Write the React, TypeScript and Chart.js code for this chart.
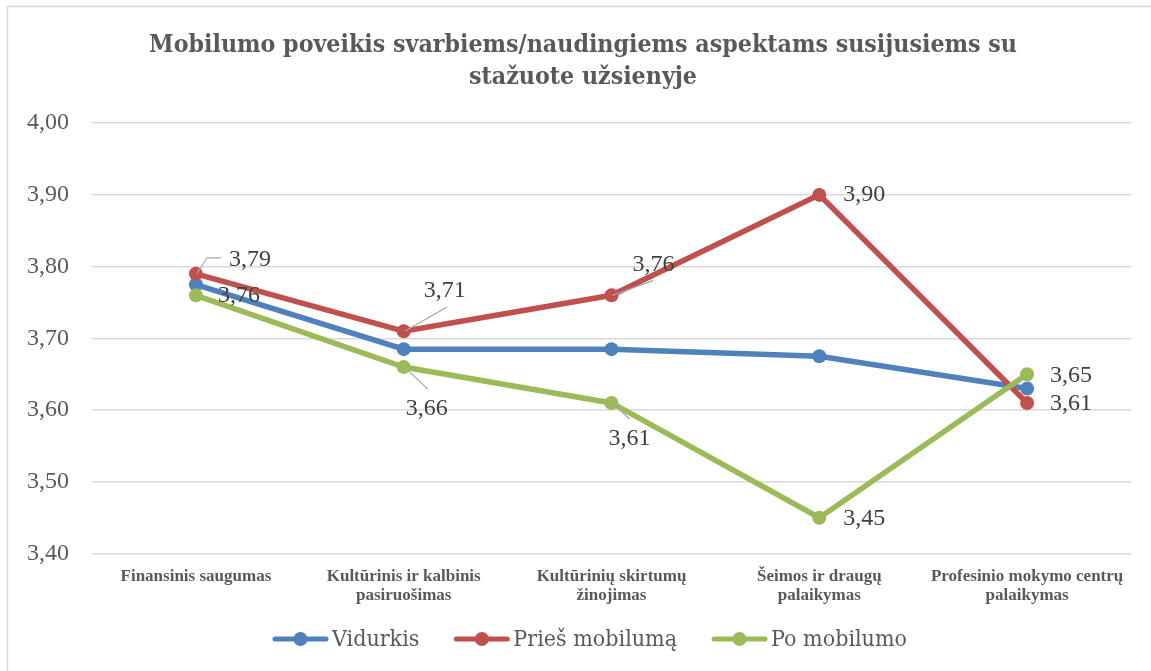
import React, { useEffect, useRef } from "react";
import { Chart, registerables } from "chart.js";

Chart.register(...registerables);

const titleLines = [
  "Mobilumo poveikis svarbiems/naudingiems aspektams susijusiems su",
  "stažuote užsienyje",
];
const categories = [
  ["Finansinis saugumas"],
  ["Kultūrinis ir kalbinis", "pasiruošimas"],
  ["Kultūrinių skirtumų", "žinojimas"],
  ["Šeimos ir draugų", "palaikymas"],
  ["Profesinio mokymo centrų", "palaikymas"],
];
const seriesNames = ["Vidurkis", "Prieš mobilumą", "Po mobilumo"];
const vidurkis = [3.775, 3.685, 3.685, 3.675, 3.63];
const priesMobiluma = [3.79, 3.71, 3.76, 3.9, 3.61];
const poMobilumo = [3.76, 3.66, 3.61, 3.45, 3.65];
const yMin = 3.4;
const yMax = 4.0;
const yStep = 0.1;

const COLORS = ["#4F81BD", "#C0504D", "#9BBB59"];

// label placement (relative to each point): [dx to left edge, dy to centre, leader points]
type LabelPos = { dx: number; dy: number; leader?: number[][] };
const labelPlacement: (LabelPos[] | null)[] = [
  null,
  [
    { dx: 33, dy: -14, leader: [[11, -16], [25, -16]] },
    { dx: 20, dy: -40, leader: [[43, -24]] },
    { dx: 21, dy: -31, leader: [[42, -15]] },
    { dx: 24, dy: 0 },
    { dx: 23, dy: 1 },
  ],
  [
    { dx: 22, dy: 0 },
    { dx: 2, dy: 42, leader: [[24, 22]] },
    { dx: -3, dy: 36, leader: [[18, 16]] },
    { dx: 24, dy: 1 },
    { dx: 23, dy: 1 },
  ],
];

const fmt = (v: number) => v.toFixed(2).replace(".", ",");

const framePlugin = {
  id: "frame",
  afterLayout(chart: any) {
    // let the y tick labels extend into the left padding without being clipped
    chart.scales.y.left = 0;
  },
  beforeDraw(chart: any) {
    const ctx = chart.ctx;
    ctx.save();
    ctx.fillStyle = "#ffffff";
    ctx.fillRect(0, 0, chart.width, chart.height);
    ctx.strokeStyle = "#d9d9d9";
    ctx.lineWidth = 1.5;
    ctx.beginPath();
    ctx.moveTo(7.5, chart.height);
    ctx.lineTo(7.5, 6.5);
    ctx.lineTo(chart.width, 6.5);
    ctx.stroke();
    ctx.restore();
  },
};

const labelsPlugin = {
  id: "pointLabels",
  afterDatasetsDraw(chart: any) {
    const ctx = chart.ctx;
    ctx.save();
    chart.data.datasets.forEach((ds: any, di: number) => {
      const place = labelPlacement[di];
      if (!place) return;
      const meta = chart.getDatasetMeta(di);
      meta.data.forEach((pt: any, i: number) => {
        const p = place[i];
        if (!p) return;
        if (p.leader) {
          ctx.strokeStyle = "#a6a6a6";
          ctx.lineWidth = 1.2;
          ctx.beginPath();
          ctx.moveTo(pt.x + 1, pt.y);
          p.leader.forEach((q) => ctx.lineTo(pt.x + q[0], pt.y + q[1]));
          ctx.stroke();
        }
        ctx.fillStyle = "#404040";
        ctx.font = "24px 'Liberation Serif'";
        ctx.textAlign = "left";
        ctx.textBaseline = "middle";
        ctx.fillText(fmt(ds.data[i]), pt.x + p.dx, pt.y + p.dy);
      });
    });
    ctx.restore();
  },
};

const legendPlugin = {
  id: "customLegend",
  afterDraw(chart: any) {
    const ctx = chart.ctx;
    ctx.save();
    ctx.font = "23px 'DejaVu Serif Condensed', 'DejaVu Serif'";
    ctx.textBaseline = "middle";
    ctx.textAlign = "left";
    const lineW = 55;
    const gapText = 4;
    const gapItems = 35;
    const ds = chart.data.datasets;
    const widths = ds.map((d: any) => lineW + gapText + ctx.measureText(d.label).width);
    const total = widths.reduce((a: number, b: number) => a + b, 0) + gapItems * (ds.length - 1);
    let x = 590 - total / 2;
    const y = 639;
    ds.forEach((d: any, i: number) => {
      ctx.strokeStyle = d.borderColor;
      ctx.lineWidth = 5;
      ctx.lineCap = "round";
      ctx.beginPath();
      ctx.moveTo(x + 2, y);
      ctx.lineTo(x + lineW - 2, y);
      ctx.stroke();
      ctx.fillStyle = d.borderColor;
      ctx.beginPath();
      ctx.arc(x + lineW / 2, y, 7, 0, Math.PI * 2);
      ctx.fill();
      ctx.fillStyle = "#595959";
      ctx.fillText(d.label, x + lineW + gapText, y + 1);
      x += widths[i] + gapItems;
    });
    ctx.restore();
  },
};

export default function App() {
  const ref = useRef<HTMLCanvasElement>(null);
  useEffect(() => {
    if (!ref.current) return;
    const data = [vidurkis, priesMobiluma, poMobilumo];
    const chart = new Chart(ref.current, {
      type: "line",
      data: {
        labels: categories as any,
        datasets: data.map((d, i) => ({
          label: seriesNames[i],
          data: d,
          borderColor: COLORS[i],
          backgroundColor: COLORS[i],
          borderWidth: 5.5,
          pointRadius: 7,
          pointBorderWidth: 0,
          pointBackgroundColor: COLORS[i],
          tension: 0,
          order: 2 - i,
        })),
      },
      options: {
        responsive: false,
        maintainAspectRatio: false,
        animation: false,
        layout: { padding: { left: 35, right: 20, top: 0, bottom: 52 } },
        plugins: {
          legend: { display: false },
          tooltip: { enabled: false },
          title: {
            display: true,
            text: titleLines,
            color: "#595959",
            font: { family: "'DejaVu Serif Condensed', 'DejaVu Serif'", size: 24.7, weight: "bold", lineHeight: 1.26 },
            padding: { top: 30.5, bottom: 30.4 },
          },
        },
        scales: {
          x: {
            offset: true,
            grid: { display: false, drawTicks: false },
            border: { display: false },
            ticks: {
              autoSkip: false,
              maxRotation: 0,
              minRotation: 0,
              padding: 14,
              color: "#595959",
              font: { family: "'Liberation Serif'", size: 17, weight: "bold", lineHeight: 1.1 },
            },
          },
          y: {
            min: yMin,
            max: yMax,
            grid: { color: "#d9d9d9", lineWidth: 1.5, drawTicks: false },
            border: { display: false },
            afterFit(scale: any) {
              scale.width = 57;
            },
            ticks: {
              stepSize: yStep,
              padding: 23,
              color: "#595959",
              font: { family: "'Liberation Serif'", size: 24 },
              callback: (v: any) => fmt(Number(v)),
            },
          },
        },
      },
      plugins: [framePlugin, labelsPlugin, legendPlugin],
    });
    return () => chart.destroy();
  }, []);
  return (
    <canvas
      ref={ref}
      width={1151}
      height={671}
      style={{ position: "fixed", left: 0, top: 0, width: 1151, height: 671, display: "block" }}
    />
  );
}
